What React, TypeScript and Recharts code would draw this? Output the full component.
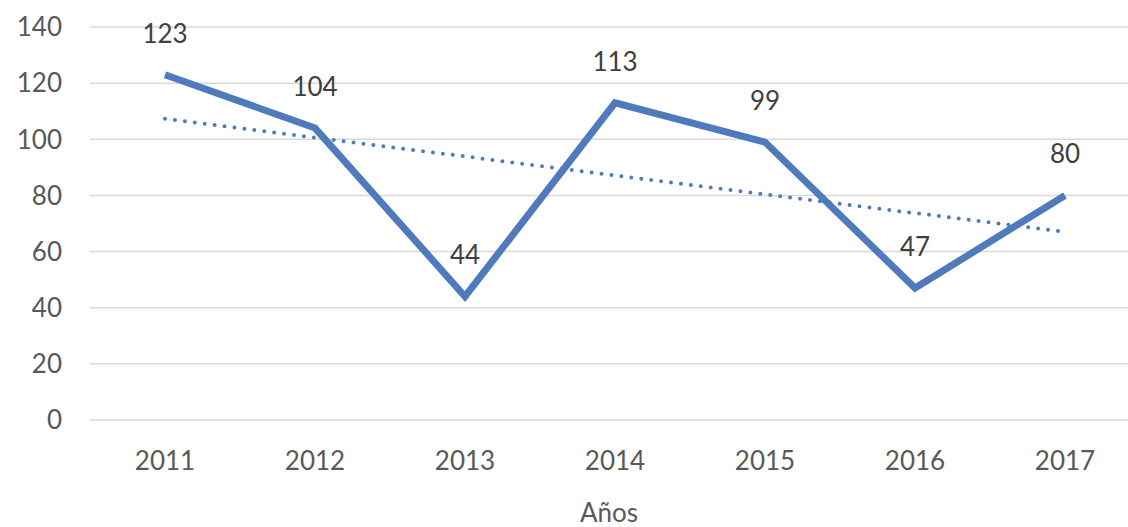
import { LineChart, Line, XAxis, YAxis, CartesianGrid, LabelList } from 'recharts'

const years = ['2011', '2012', '2013', '2014', '2015', '2016', '2017']
const values = [123, 104, 44, 113, 99, 47, 80]
// dotted trend line
const trend = [107.3, 100.6, 93.9, 87.1, 80.4, 73.7, 67.0]
const yTicks = [0, 20, 40, 60, 80, 100, 120, 140]

const data = years.map((y, i) => ({ year: y, value: values[i], trend: trend[i] }))

const font = 'Lato, "Open Sans", sans-serif'

export default function App() {
  return (
    <div style={{ position: 'fixed', left: 0, top: 0, width: 1128, height: 527, background: '#fff', fontFamily: font }}>
      <LineChart width={1128} height={527} data={data} margin={{ top: 27, right: 0, bottom: 0, left: 0 }}>
        <CartesianGrid vertical={false} stroke='#d9d9d9' strokeWidth={1.5} />
        <XAxis
          dataKey='year'
          padding={{ left: 75, right: 63 }}
          axisLine={false}
          tickLine={false}
          tickSize={0}
          tickMargin={32}
          height={107}
          tick={{ fill: '#595959', fontSize: 26, fontFamily: font }}
          label={{ value: 'Años', position: 'insideBottom', offset: 5, fill: '#595959', fontSize: 26, fontFamily: font }}
        />
        <YAxis
          domain={[0, 140]}
          ticks={yTicks}
          width={90}
          axisLine={false}
          tickLine={false}
          tickSize={0}
          tickMargin={28}
          tick={{ fill: '#595959', fontSize: 26, fontFamily: font }}
        />
        <Line
          dataKey='trend'
          stroke='#4F7BBD'
          strokeWidth={4}
          strokeDasharray='0 10'
          strokeLinecap='round'
          dot={false}
          isAnimationActive={false}
        />
        <Line
          dataKey='value'
          stroke='#4F7BBD'
          strokeWidth={7}
          dot={false}
          isAnimationActive={false}
        >
          <LabelList dataKey='value' position='top' offset={32} fill='#404040' fontSize={26} fontFamily={font} />
        </Line>
      </LineChart>
    </div>
  )
}
